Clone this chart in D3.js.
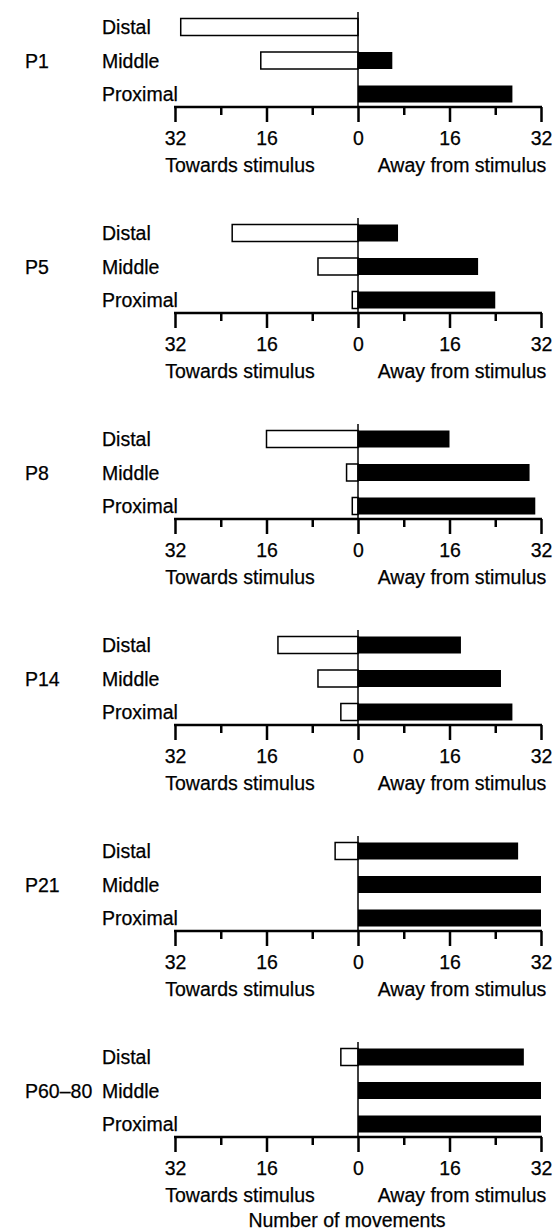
<!DOCTYPE html>
<html>
<head>
<meta charset="utf-8">
<script src="https://cdn.jsdelivr.net/npm/d3@7"></script>
<style>
  html, body { margin: 0; padding: 0; background: #fff; }
  text { font-family: "Liberation Sans", Arial, Helvetica, sans-serif; fill: #000; stroke: #000; stroke-width: 0.25px; }
</style>
</head>
<body>
<svg id="chart" width="556" height="1230"></svg>
<script>
// ---- data ----
const ages = ["P1", "P5", "P8", "P14", "P21", "P60\u201380"];
const positions = ["Distal", "Middle", "Proximal"];
// number of movements towards the stimulus (left, open bars)
const towards = [
  [31, 17, 0],
  [22, 7, 1],
  [16, 2, 1],
  [14, 7, 3],
  [4, 0, 0],
  [3, 0, 0]
];
// number of movements away from the stimulus (right, filled bars)
const away = [
  [0, 6, 27],
  [7, 21, 24],
  [16, 30, 31],
  [18, 25, 27],
  [28, 32, 32],
  [29, 32, 32]
];
const majorTicks = [-32, -16, 0, 16, 32];
const minorTicks = [-24, -8, 8, 24];
const leftLabel = "Towards stimulus";
const rightLabel = "Away from stimulus";
const xTitle = "Number of movements";

// ---- layout ----
const svg = d3.select("#chart");
const fontSize = 19.5;
const x = d3.scaleLinear().domain([-32, 32]).range([175, 541]);
const y = d3.scalePoint().domain(positions).range([-80, -13]);
const barH = 17;

ages.forEach((age, i) => {
  const ay = 107 + 206 * i;
  const g = svg.append("g").attr("transform", `translate(0,${ay})`);

  // open bars (towards)
  g.selectAll("rect.tow")
    .data(positions.map((p, j) => ({ p, v: towards[i][j] })).filter(d => d.v > 0))
    .join("rect")
    .attr("class", "tow")
    .attr("x", d => x(-d.v))
    .attr("y", d => y(d.p) - barH / 2)
    .attr("width", d => x(0) - x(-d.v))
    .attr("height", barH)
    .attr("fill", "#fff")
    .attr("stroke", "#000")
    .attr("stroke-width", 1.5);

  // filled bars (away)
  g.selectAll("rect.away")
    .data(positions.map((p, j) => ({ p, v: away[i][j] })).filter(d => d.v > 0))
    .join("rect")
    .attr("class", "away")
    .attr("x", x(0))
    .attr("y", d => y(d.p) - barH / 2)
    .attr("width", d => x(d.v) - x(0))
    .attr("height", barH)
    .attr("fill", "#000");

  // zero line
  g.append("line")
    .attr("x1", x(0)).attr("x2", x(0))
    .attr("y1", -95).attr("y2", 0)
    .attr("stroke", "#000").attr("stroke-width", 1.5);

  // category labels
  g.selectAll("text.cat")
    .data(positions)
    .join("text")
    .attr("class", "cat")
    .attr("x", 102)
    .attr("y", d => y(d))
    .attr("dy", "0.36em")
    .attr("font-size", fontSize)
    .text(d => d);

  // age label
  g.append("text")
    .attr("x", 25)
    .attr("y", y("Middle"))
    .attr("dy", "0.36em")
    .attr("font-size", fontSize)
    .text(age);

  // minor ticks
  const minorAxis = d3.axisBottom(x).tickValues(minorTicks).tickSize(8).tickSizeOuter(0).tickFormat("");
  const gm = g.append("g").call(minorAxis);
  gm.select(".domain").remove();
  gm.selectAll(".tick line").attr("stroke-width", 2.5);

  // major axis
  const majorAxis = d3.axisBottom(x).tickValues(majorTicks).tickSize(15).tickSizeOuter(0)
    .tickPadding(9.5).tickFormat(d => Math.abs(d));
  const ga = g.append("g").call(majorAxis);
  ga.select(".domain").attr("stroke-width", 2.5).attr("d", `M${x(-32) - 1},0H${x(32) + 1}`);
  ga.selectAll(".tick line").attr("stroke-width", 2.5);
  ga.selectAll(".tick text")
    .attr("font-size", fontSize)
    .attr("font-family", "'Liberation Sans', Arial, Helvetica, sans-serif")
    .attr("fill", "#000");

  // direction labels
  g.append("text")
    .attr("x", 240).attr("y", 65)
    .attr("text-anchor", "middle")
    .attr("font-size", fontSize)
    .text(leftLabel);
  g.append("text")
    .attr("x", 462).attr("y", 65)
    .attr("text-anchor", "middle")
    .attr("font-size", fontSize)
    .text(rightLabel);

  if (i === ages.length - 1) {
    g.append("text")
      .attr("x", 347).attr("y", 90)
      .attr("text-anchor", "middle")
      .attr("font-size", fontSize)
      .text(xTitle);
  }
});
</script>
</body>
</html>
